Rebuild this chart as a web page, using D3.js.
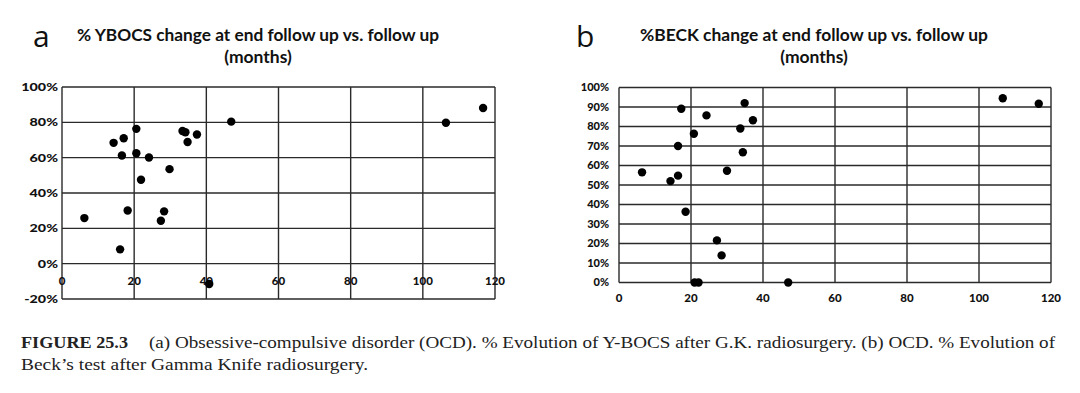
<!DOCTYPE html>
<html><head><meta charset="utf-8">
<script src="https://cdn.jsdelivr.net/npm/d3@7"></script>
<style>body{margin:0;background:#fff}svg{display:block}</style>
</head><body>
<svg id="c" width="1080" height="393"></svg>
<script>
// ---- data ----
const ybocsMonths = [6.2,14.3,17.1,16.6,20.6,20.6,24.1,21.9,29.8,33.4,34.2,34.8,37.4,46.9,18.2,28.3,27.4,16.1,40.8,106.4,116.7];
const ybocsChange = [25.8,68.4,71,61.2,76.3,62.5,60.1,47.5,53.5,75.1,74.4,68.9,73.1,80.4,30.1,29.6,24.3,8.1,-11.5,79.8,88.1];
const beckMonths = [6.4,14.3,16.4,16.4,17.3,20.8,24.3,18.5,27.2,28.5,30,33.7,34.9,34.4,37.2,21.0,22.1,47.0,106.6,116.6];
const beckChange = [56.5,52,54.8,70,89.1,76.3,85.7,36.3,21.6,13.9,57.3,79,92,66.8,83.2,0,0,0,94.5,91.7];
const xTicks = [0,20,40,60,80,100,120];
const yTicksA = [-20,0,20,40,60,80,100];
const yTicksB = [0,10,20,30,40,50,60,70,80,90,100];
const titleA = "% YBOCS change at end follow up vs. follow up";
const titleB = "%BECK change at end follow up vs. follow up";
const subTitle = "(months)";
const captionBold = "FIGURE 25.3";
const captionLine1 = "(a) Obsessive-compulsive disorder (OCD). % Evolution of Y-BOCS after G.K. radiosurgery. (b) OCD. % Evolution of";
const captionLine2 = "Beck\u2019s test after Gamma Knife radiosurgery.";

const svg = d3.select("#c");
svg.append("rect").attr("width",1080).attr("height",393).attr("fill","#fff");
const gridCol = "#2a2a2a";
const lblFont = "Lato, 'Open Sans', sans-serif";

function panel(o){
  const x = d3.scaleLinear().domain([0,120]).range(o.xr);
  const y = d3.scaleLinear().domain(o.yd).range(o.yr);
  const g = svg.append("g");
  g.selectAll("line.h").data(o.yTicks).join("line")
    .attr("x1",x(0)).attr("x2",x(120)).attr("y1",d=>y(d)).attr("y2",d=>y(d))
    .attr("stroke",gridCol).attr("stroke-width",1.4);
  g.selectAll("line.v").data(xTicks).join("line")
    .attr("x1",d=>x(d)).attr("x2",d=>x(d)).attr("y1",y(o.yd[0])).attr("y2",y(o.yd[1]))
    .attr("stroke",gridCol).attr("stroke-width",1.4);
  g.selectAll("text.y").data(o.yTicks).join("text")
    .attr("x",o.yLabelX).attr("y",d=>y(d)).attr("dy","0.35em")
    .attr("text-anchor","end").attr("font-family",lblFont).attr("font-weight",900)
    .attr("font-size",11).attr("fill","#111")
    .text(d=>d+"%")
    .each(function(){ if(o.yStretch!==1){ const w=this.getComputedTextLength(); d3.select(this).attr("textLength",w*o.yStretch).attr("lengthAdjust","spacingAndGlyphs"); }});
  g.selectAll("text.x").data(xTicks).join("text")
    .attr("x",d=>x(d)).attr("y",o.xLabelY).attr("dy","0.35em")
    .attr("text-anchor","middle").attr("font-family",lblFont).attr("font-weight",900)
    .attr("font-size",11.5).attr("fill","#111")
    .text(d=>d);
  g.selectAll("circle").data(o.xs.map((d,i)=>[d,o.ys[i]])).join("circle")
    .attr("cx",d=>x(d[0])).attr("cy",d=>y(d[1])).attr("r",4.2).attr("fill","#000");
  const cx = o.titleX;
  g.append("text").attr("x",cx).attr("y",41).attr("text-anchor","middle")
    .attr("font-family",lblFont).attr("font-weight",700).attr("font-size",17.5).attr("fill","#111")
    .attr("textLength",o.titleLen).attr("lengthAdjust","spacingAndGlyphs").text(o.title);
  g.append("text").attr("x",cx).attr("y",63).attr("text-anchor","middle")
    .attr("font-family",lblFont).attr("font-weight",700).attr("font-size",17.5).attr("fill","#111")
    .text(subTitle);
  g.append("text").attr("x",o.letterX).attr("y",47)
    .attr("font-family","'Open Sans', sans-serif").attr("font-size",30).attr("fill","#111")
    .text(o.letter);
}

panel({xr:[62,495], yd:[-20,100], yr:[299,87], yTicks:yTicksA, yLabelX:58, yStretch:1.3,
  xLabelY:281, xs:ybocsMonths, ys:ybocsChange, title:titleA, titleLen:362, titleX:258, letter:"a", letterX:33});
panel({xr:[619,1051], yd:[0,100], yr:[282.5,87.5], yTicks:yTicksB, yLabelX:609, yStretch:1,
  xLabelY:298, xs:beckMonths, ys:beckChange, title:titleB, titleLen:348, titleX:814, letter:"b", letterX:576});

// caption
const cap = svg.append("g").attr("font-family","'Liberation Serif', 'DejaVu Serif', serif").attr("font-size",17).attr("fill","#222");
cap.append("text").attr("x",21).attr("y",348).attr("font-weight",700)
  .attr("textLength",107).attr("lengthAdjust","spacingAndGlyphs").text(captionBold);
cap.append("text").attr("x",149).attr("y",348)
  .attr("textLength",906).attr("lengthAdjust","spacingAndGlyphs").text(captionLine1);
cap.append("text").attr("x",21).attr("y",370)
  .attr("textLength",347).attr("lengthAdjust","spacingAndGlyphs").text(captionLine2);
</script>
</body></html>
